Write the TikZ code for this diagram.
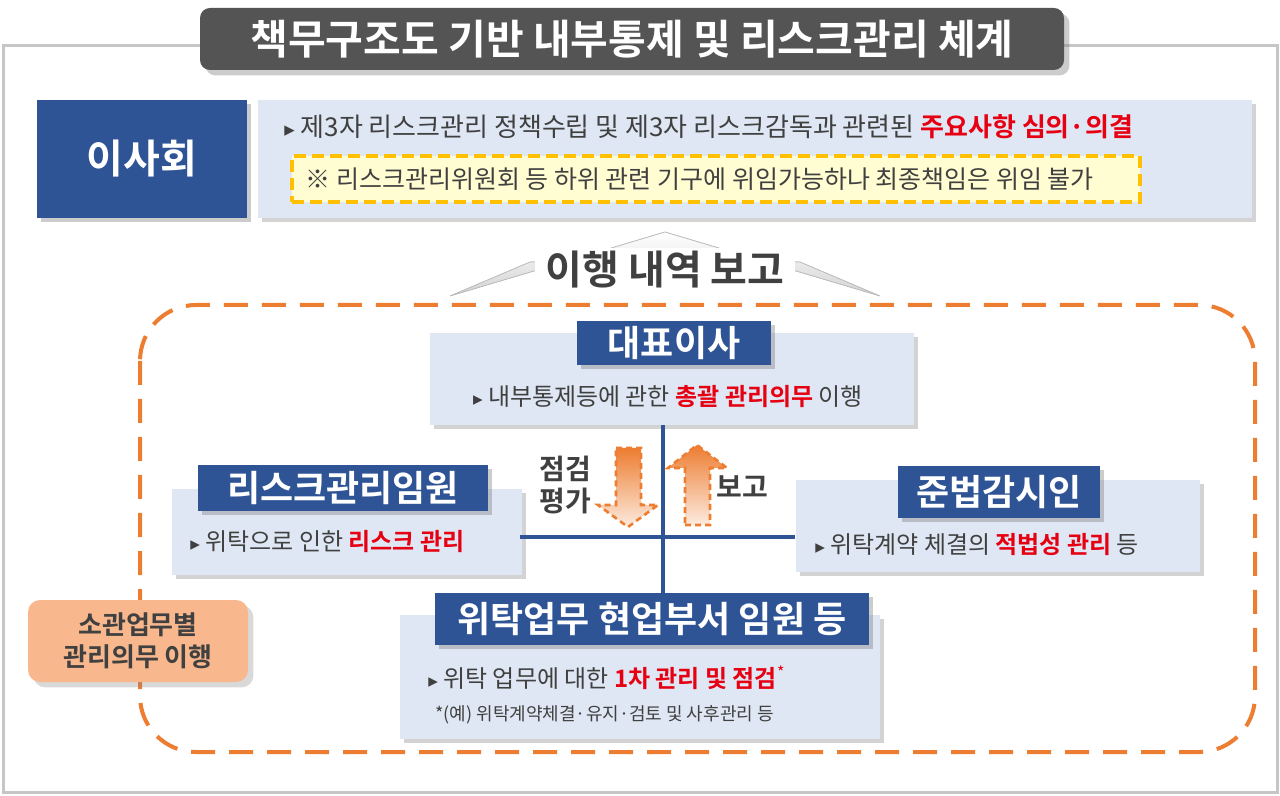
\documentclass[tikz,border=0pt]{standalone}
\usepackage{fontspec}
\setmainfont{Noto Sans CJK KR}
\newfontfamily\kb{Noto Sans CJK KR Bold}
\newfontfamily\dv{DejaVu Sans}
\newcommand{\tri}{{\dv\scalebox{0.8}{▸}}}
\usetikzlibrary{shadows}
\definecolor{bluebox}{RGB}{47,84,150}
\definecolor{lightbox}{RGB}{222,231,243}
\definecolor{orng}{RGB}{237,125,49}
\definecolor{redt}{RGB}{230,0,18}
\definecolor{txt}{RGB}{64,64,64}
\tikzset{
 lbox/.style={fill=lightbox,draw=none,drop shadow={shadow xshift=2pt,shadow yshift=-2pt,opacity=0.35}},
 blab/.style={fill=bluebox,text=white,font=\kb\fontsize{18}{20}\selectfont,drop shadow={shadow xshift=2pt,shadow yshift=-2pt,opacity=0.4},inner sep=0pt},
 body/.style={text=txt,font=\fontsize{12}{14}\selectfont,inner sep=0pt},
 conn/.style={draw=bluebox,line width=2.2pt},
 darr/.style={top color=orng,bottom color=white!85!orng,draw=orng,dashed,line width=1.3pt,dash pattern=on 3pt off 2pt}
}
\begin{document}
\begin{tikzpicture}[x=0.5pt,y=-0.5pt]
\useasboundingbox (0,0) rectangle (1280,796);
\draw[gray!45,line width=1.5pt] (3,46) rectangle (1277,792);
\node[fill=black!67,rounded corners=5pt,minimum width=432pt,minimum height=31pt,text=white,font=\kb\fontsize{20.5}{22}\selectfont,drop shadow={opacity=0.4}] (title) at (632,39) {책무구조도 기반 내부통제 및 리스크관리 체계};
% board
\node[blab,minimum width=105pt,minimum height=59pt,font=\kb\fontsize{20}{22}\selectfont] (board) at (142,159) {이사회};
\node[lbox,minimum width=497pt,minimum height=59pt] (boardtxt) at (755,159) {};
\node[body,anchor=west,font=\fontsize{13}{15}\selectfont] (b1) at (284,127) {\tri\ 제3자 리스크관리 정책수립 및 제3자 리스크감독과 관련된 {\kb\color{redt}주요사항 심의·의결}};
\node[fill=yellow!18,draw={rgb,255:red,255;green,192;blue,0},dashed,line width=2pt,dash pattern=on 6pt off 3pt,minimum width=424pt,minimum height=23pt] (note) at (716,179) {};
\node[body,anchor=west,font=\fontsize{12.5}{14}\selectfont] at (305,179) {※ 리스크관리위원회 등 하위 관련 기구에 위임가능하나 최종책임은 위임 불가};
% report chevron
\fill[top color=white,bottom color=gray!35,draw=gray!50] (450,296) -- (665,232) -- (880,296) -- (800,262) -- (530,262) -- cycle;
\fill[white] (535,248) rectangle (795,296);
\node[text=txt,font=\kb\fontsize{20}{22}\selectfont] (rep) at (665,270) {이행 내역 보고};
% orange frame
\draw[orng,line width=2pt,dash pattern=on 12pt off 7pt,rounded corners=28pt] (140,305) rectangle (1255,752);
% boxes
\node[lbox,minimum width=242pt,minimum height=46pt] (ceo) at (672,379) {};
\node[lbox,minimum width=175pt,minimum height=43pt] (risk) at (347,532) {};
\node[lbox,minimum width=202pt,minimum height=46pt] (comp) at (998,526) {};
\node[lbox,minimum width=240pt,minimum height=62pt] (task) at (640,677) {};
% connectors
\coordinate (vtop) at (663,425);
\coordinate (vbot) at (663,600);
\coordinate (hl) at (520,537);
\coordinate (hr) at (795,537);
\draw[conn] (vtop) -- (vbot);
\draw[conn] (hl) -- (hr);
% labels
\node[blab,minimum width=97pt,minimum height=22pt] (ceol) at (674,343) {대표이사};
\node[body] at (668,397) {\tri\ 내부통제등에 관한 {\kb\color{redt}총괄 관리의무} 이행};
\node[blab,minimum width=145pt,minimum height=23pt] (riskl) at (343,488) {리스크관리임원};
\node[body,anchor=west] at (190,542) {\tri\ 위탁으로 인한 {\kb\color{redt}리스크 관리}};
\node[blab,minimum width=101pt,minimum height=26pt] (compl) at (999,492) {준법감시인};
\node[body,anchor=west] at (815,545) {\tri\ 위탁계약 체결의 {\kb\color{redt}적법성 관리} 등};
\node[blab,minimum width=217pt,minimum height=26pt] (taskl) at (652,619) {위탁업무 현업부서 임원 등};
\node[body,anchor=west] at (428,678) {\tri\ 위탁 업무에 대한 {\kb\color{redt}1차 관리 및 점검}{\color{redt}\textsuperscript{*}}};
\node[body,anchor=west,font=\fontsize{9}{10}\selectfont] at (435,715) {*(예) 위탁계약체결·유지·검토 및 사후관리 등};
% side label
\node[fill={rgb,255:red,248;green,183;blue,140},rounded corners=6pt,minimum width=110pt,minimum height=41pt,align=center,text=txt,font=\kb\fontsize{13}{16}\selectfont,drop shadow={opacity=0.3}] (side) at (138,641) {소관업무별\\관리의무 이행};
% arrows
\path[darr] (616,448) -- (641,448) -- (641,505) -- (658,505) -- (628,527) -- (598,505) -- (616,505) -- cycle;
\path[darr] (685,525) -- (710,525) -- (710,468) -- (727,468) -- (697,445) -- (668,468) -- (685,468) -- cycle;
\node[text=txt,font=\kb\fontsize{14}{16}\selectfont,align=center] (chk) at (565,485) {점검\\평가};
\node[text=txt,font=\kb\fontsize{14}{16}\selectfont] (rp) at (742,487) {보고};
\end{tikzpicture}
\end{document}
